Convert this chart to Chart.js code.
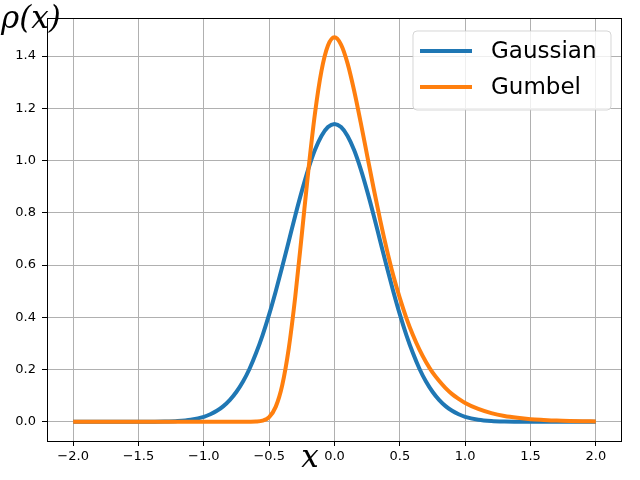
<!DOCTYPE html>
<html>
<head>
<meta charset="utf-8">
<script src="https://cdn.jsdelivr.net/npm/chart.js@4/dist/chart.umd.min.js"></script>
<style>
html,body{margin:0;padding:0;background:#fff;}
#wrap{width:640px;height:480px;position:relative;}
</style>
</head>
<body>
<div id="wrap"><canvas id="c" width="640" height="480"></canvas></div>
<script>
// x positions
const xValues = [-2.0,-1.9,-1.8,-1.7,-1.6,-1.5,-1.4,-1.3,-1.2,-1.1,-1.0,
  -0.95,-0.9,-0.85,-0.8,-0.75,-0.7,-0.65,-0.6,-0.55,-0.5,-0.45,-0.4,-0.35,-0.3,-0.25,-0.2,-0.15,-0.1,-0.05,
  0.0,0.05,0.1,0.15,0.2,0.25,0.3,0.35,0.4,0.45,0.5,0.55,0.6,0.65,0.7,0.75,0.8,0.85,0.9,0.95,
  1.0,1.1,1.2,1.3,1.4,1.5,1.6,1.7,1.8,1.9,2.0];
const gaussianValues = [0,0,0,0,0,0.0001,0.0004,0.001,0.003,0.008,0.019,
  0.029,0.042,0.060,0.084,0.115,0.154,0.203,0.263,0.332,0.411,0.499,0.593,0.691,0.790,0.883,0.968,1.040,1.094,1.128,
  1.14,1.128,1.094,1.040,0.968,0.883,0.790,0.691,0.593,0.499,0.411,0.332,0.263,0.203,0.154,0.115,0.084,0.060,0.042,0.029,
  0.019,0.008,0.003,0.001,0.0004,0.0001,0,0,0,0,0];
const gumbelValues = [0,0,0,0,0,0,0,0,0,0,0,
  0,0,0,0,0,0,0.0001,0.0007,0.0043,0.018,0.057,0.140,0.281,0.480,0.718,0.962,1.178,1.342,1.440,
  1.472,1.444,1.372,1.268,1.147,1.019,0.892,0.771,0.660,0.560,0.473,0.397,0.332,0.276,0.229,0.189,0.157,0.129,0.106,0.088,
  0.072,0.049,0.033,0.022,0.015,0.010,0.007,0.0045,0.003,0.002,0.0013];
const seriesLabels = ["Gaussian","Gumbel"];
const xTicks = [-2.0,-1.5,-1.0,-0.5,0.0,0.5,1.0,1.5,2.0];
const yTicks = [0.0,0.2,0.4,0.6,0.8,1.0,1.2,1.4];
const xLabel = "x";
const yLabel = "ρ(x)";

const BLUE = "#1f77b4", ORANGE = "#ff7f0e";
const toPts = ys => xValues.map((x,i)=>({x:x,y:ys[i]}));
const fmt = v => Number(v).toFixed(1).replace("-","\u2212");

const extras = {
  id:"extras",
  afterDraw(chart){
    const ctx = chart.ctx, a = chart.chartArea;
    ctx.save();
    // axes frame
    ctx.strokeStyle = "#000"; ctx.lineWidth = 1;
    ctx.strokeRect(Math.round(a.left)+0.5, Math.round(a.top)+0.5, Math.round(a.right-a.left)-1, Math.round(a.bottom-a.top));
    // axis labels (math style)
    ctx.fillStyle = "#000";
    ctx.font = "italic 31px 'DejaVu Serif'";
    ctx.textBaseline = "alphabetic";
    ctx.textAlign = "left";
    ctx.fillText(yLabel, 1, 28);
    ctx.textAlign = "center";
    ctx.fillText(xLabel, 310, 467);
    // legend
    const bx=413, by=31, bw=198, bh=79, r=4;
    ctx.beginPath();
    ctx.moveTo(bx+r,by); ctx.lineTo(bx+bw-r,by); ctx.arcTo(bx+bw,by,bx+bw,by+r,r);
    ctx.lineTo(bx+bw,by+bh-r); ctx.arcTo(bx+bw,by+bh,bx+bw-r,by+bh,r);
    ctx.lineTo(bx+r,by+bh); ctx.arcTo(bx,by+bh,bx,by+bh-r,r);
    ctx.lineTo(bx,by+r); ctx.arcTo(bx,by,bx+r,by,r); ctx.closePath();
    ctx.fillStyle = "rgba(255,255,255,0.8)"; ctx.fill();
    ctx.strokeStyle = "rgba(204,204,204,0.8)"; ctx.lineWidth = 1; ctx.stroke();
    const ds = chart.data.datasets;
    const rows = [51, 87];
    ds.forEach((d,i)=>{
      ctx.strokeStyle = d.borderColor; ctx.lineWidth = 4; ctx.lineCap="butt";
      ctx.beginPath(); ctx.moveTo(420, rows[i]); ctx.lineTo(472, rows[i]); ctx.stroke();
      ctx.fillStyle = "#000"; ctx.font = "23px 'DejaVu Sans'";
      ctx.textAlign = "left"; ctx.textBaseline = "middle";
      ctx.fillText(d.label, 491, rows[i]+1);
    });
    ctx.restore();
  }
};

new Chart(document.getElementById("c"), {
  type: "line",
  data: {
    datasets: [
      {label: seriesLabels[0], data: toPts(gaussianValues), borderColor: BLUE, backgroundColor: BLUE, borderWidth: 4, pointRadius: 0, cubicInterpolationMode: "monotone", order: 1},
      {label: seriesLabels[1], data: toPts(gumbelValues), borderColor: ORANGE, backgroundColor: ORANGE, borderWidth: 4, pointRadius: 0, cubicInterpolationMode: "monotone", order: 0}
    ]
  },
  options: {
    responsive: false,
    animation: false,
    events: [],
    layout: {padding: {left: 0, top: 18, right: 18, bottom: 0}},
    plugins: {legend: {display: false}, tooltip: {enabled: false}},
    scales: {
      x: {
        type: "linear", min: -2.2, max: 2.2,
        afterBuildTicks: s => { s.ticks = xTicks.map(v=>({value:v})); },
        afterFit: s => { s.height = 39; },
        grid: {color: "#b0b0b0", lineWidth: 1, tickColor: "#000", tickLength: 5, drawOnChartArea: true},
        border: {display: false},
        ticks: {callback: v => fmt(v), color: "#000", font: {family: "DejaVu Sans", size: 13}, padding: 3, maxRotation: 0, autoSkip: false}
      },
      y: {
        type: "linear", min: -0.0736, max: 1.5456,
        afterBuildTicks: s => { s.ticks = yTicks.map(v=>({value:v})); },
        afterFit: s => { s.width = 47; },
        grid: {color: "#b0b0b0", lineWidth: 1, tickColor: "#000", tickLength: 5},
        border: {display: false},
        ticks: {callback: v => fmt(v), color: "#000", font: {family: "DejaVu Sans", size: 13}, padding: 6, autoSkip: false}
      }
    }
  },
  plugins: [extras]
});
</script>
</body>
</html>
